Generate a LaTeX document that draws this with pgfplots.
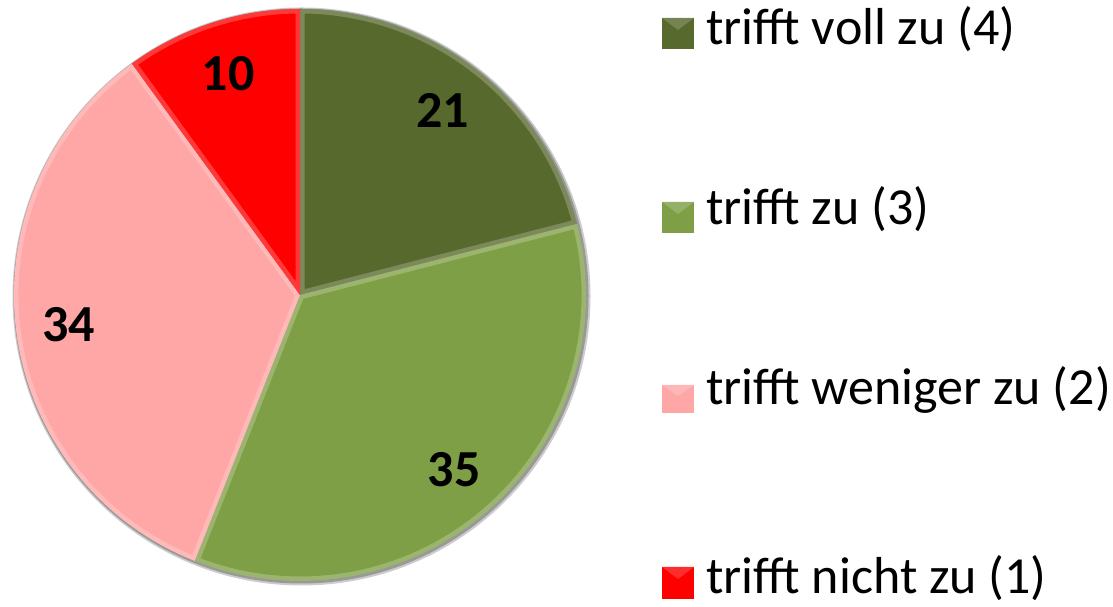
\documentclass[border=0pt]{standalone}
\usepackage{pgfplots}
\pgfplotsset{compat=1.18}
\usepackage{pgfplotstable}
\usepackage{fontspec}
\setmainfont{Carlito}

\definecolor{voll}{HTML}{58692E}
\definecolor{zu}{HTML}{7F9F46}
\definecolor{weniger}{HTML}{FFA6A6}
\definecolor{nicht}{HTML}{FF0000}

% share of answers, clockwise from 12 o'clock
\pgfplotstableread[col sep=comma]{
value,color
21,voll
35,zu
34,weniger
10,nicht
}\piedata

\begin{document}
\begin{tikzpicture}
\begin{axis}[
name=ax,
width=1113pt,
height=607pt,
scale only axis,
hide axis,
clip=false,
xmin=0, xmax=1113,
ymin=0, ymax=607
]
\addplot[draw=none] coordinates {(0,0) (1113,607)};
% soft rim shadow
\fill[black!20] (axis cs:301.5,310.5) circle[radius=289pt];
\fill[black!40] (axis cs:301,311) circle[radius=287.5pt];
\pgfplotstablegetrowsof{\piedata}
\pgfmathtruncatemacro\lastrow{\pgfplotsretval-1}
\def\cum{0}
\pgfplotsforeachungrouped \i in {0,...,\lastrow}{
  \pgfplotstablegetelem{\i}{value}\of\piedata \let\val=\pgfplotsretval
  \pgfplotstablegetelem{\i}{color}\of\piedata \let\col=\pgfplotsretval
  \pgfmathsetmacro\sa{90-3.6*\cum}
  \pgfmathsetmacro\ea{90-3.6*(\cum+\val)}
  \pgfmathsetmacro\ma{(\sa+\ea)/2}
  \pgfmathsetmacro\lx{300+233*cos(\ma)}
  \pgfmathsetmacro\ly{312+233*sin(\ma)}
  \edef\doslice{%
    \noexpand\fill[\col] (axis cs:300,312) -- ++(\sa:286pt) arc[start angle=\sa,end angle=\ea,radius=286pt] -- cycle;
    \noexpand\begin{scope}
    \noexpand\clip (axis cs:300,312) -- ++(\sa:286pt) arc[start angle=\sa,end angle=\ea,radius=286pt] -- cycle;
    \noexpand\draw[white,opacity=0.22,line width=9pt] (axis cs:300,312) -- ++(\sa:286pt) arc[start angle=\sa,end angle=\ea,radius=286pt] -- cycle;
    \noexpand\end{scope}
    \noexpand\node[font=\noexpand\fontsize{52}{54}\noexpand\selectfont\noexpand\bfseries] at (axis cs:\lx,\ly) {\val};
  }
  \doslice
  \pgfmathsetmacro\cum{\cum+\val}
}
% legend
\fill[voll] (axis cs:662,589) rectangle (axis cs:694,558);
\fill[voll!82!white] (axis cs:662,589) -- (axis cs:694,589) -- (axis cs:678,577) -- cycle;
\fill[zu] (axis cs:662,405) rectangle (axis cs:694,374);
\fill[zu!82!white] (axis cs:662,405) -- (axis cs:694,405) -- (axis cs:678,393) -- cycle;
\fill[weniger] (axis cs:662,222) rectangle (axis cs:694,194);
\fill[weniger!82!white] (axis cs:662,222) -- (axis cs:694,222) -- (axis cs:678,211) -- cycle;
\fill[nicht] (axis cs:662,40) rectangle (axis cs:694,8);
\fill[nicht!82!white] (axis cs:662,40) -- (axis cs:694,40) -- (axis cs:678,28) -- cycle;
\begin{scope}[every node/.style={anchor=base west,inner sep=0pt,font=\fontsize{52}{54}\selectfont}]
\node at (axis cs:706,562) {trifft voll zu (4)};
\node at (axis cs:706,382) {trifft zu (3)};
\node at (axis cs:706,202) {trifft weniger zu (2)};
\node at (axis cs:706,13) {trifft nicht zu (1)};
\end{scope}
\end{axis}
\pgfresetboundingbox
\useasboundingbox (ax.south west) rectangle (ax.north east);
\end{tikzpicture}
\end{document}
